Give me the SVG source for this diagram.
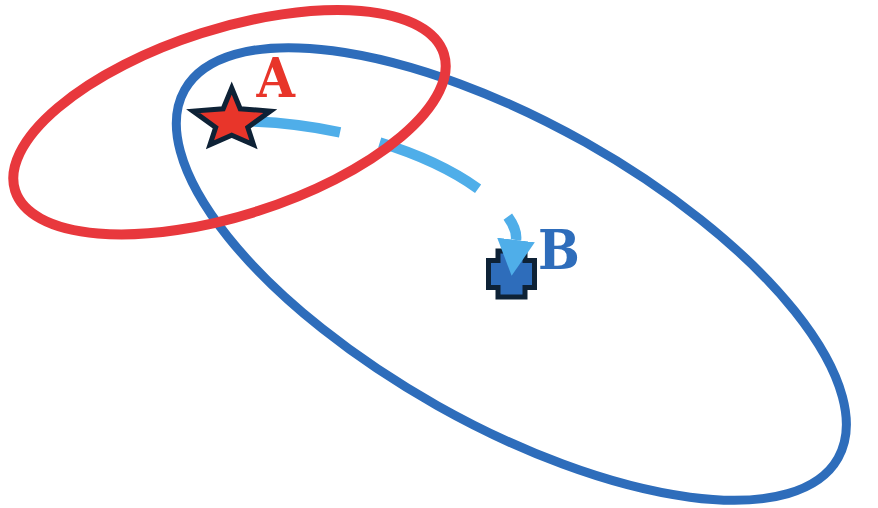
<svg xmlns="http://www.w3.org/2000/svg" width="878" height="508" viewBox="0 0 878 508">
  <style>
    .region { fill: none; }
    .blue-region { stroke: #2e6dbb; stroke-width: 9; }
    .red-region { stroke: #e8383d; stroke-width: 10; }
    .label { font-family: 'DejaVu Serif Condensed', 'DejaVu Serif', 'Liberation Serif', serif; font-weight: bold; font-size: 55px; text-anchor: middle; }
    .outline { stroke: #0e2236; stroke-width: 5; stroke-linejoin: miter; }
    .edge { fill: none; stroke: #4faee9; stroke-width: 10.5; stroke-dasharray: 109 41; }
  </style>
  <defs>
    <marker id="arrowhead" markerUnits="userSpaceOnUse" viewBox="0 0 36 38" markerWidth="36" markerHeight="38" refX="0" refY="19" orient="auto">
      <path d="M0,0 L36,19 L0,38 Z" fill="#4faee9"/>
    </marker>
  </defs>

  <g id="region-blue">
    <ellipse class="region blue-region" cx="511.35" cy="274" rx="375" ry="151" transform="rotate(29.4 511.35 274)"/>
  </g>

  <g id="node-B">
    <path class="outline" fill="#2e6dbb" d="M498,251 H525 V260.5 H534.5 V287.5 H525 V297 H498 V287.5 H488.5 V260.5 H498 Z"/>
    <text class="label" x="559" y="269" fill="#2e6dbb">B</text>
  </g>

  <g id="connectors">
    <path class="edge" d="M231.7,121 C400,121 520.9,200.3 516,240" marker-end="url(#arrowhead)"/>
  </g>

  <g id="region-red">
    <ellipse class="region red-region" cx="229.5" cy="122.2" rx="225" ry="93.3" transform="rotate(-17.7 229.5 122.2)"/>
  </g>

  <g id="node-A">
    <polygon class="outline" fill="#e8352a" points="231.7,88 240.2,108.8 270.3,111.1 247.8,127.4 253.5,144.7 231.7,135.2 210,144.7 215.7,127.4 193.1,111.1 223.2,108.8"/>
    <text class="label" x="275.8" y="97" fill="#e8352a">A</text>
  </g>
</svg>
